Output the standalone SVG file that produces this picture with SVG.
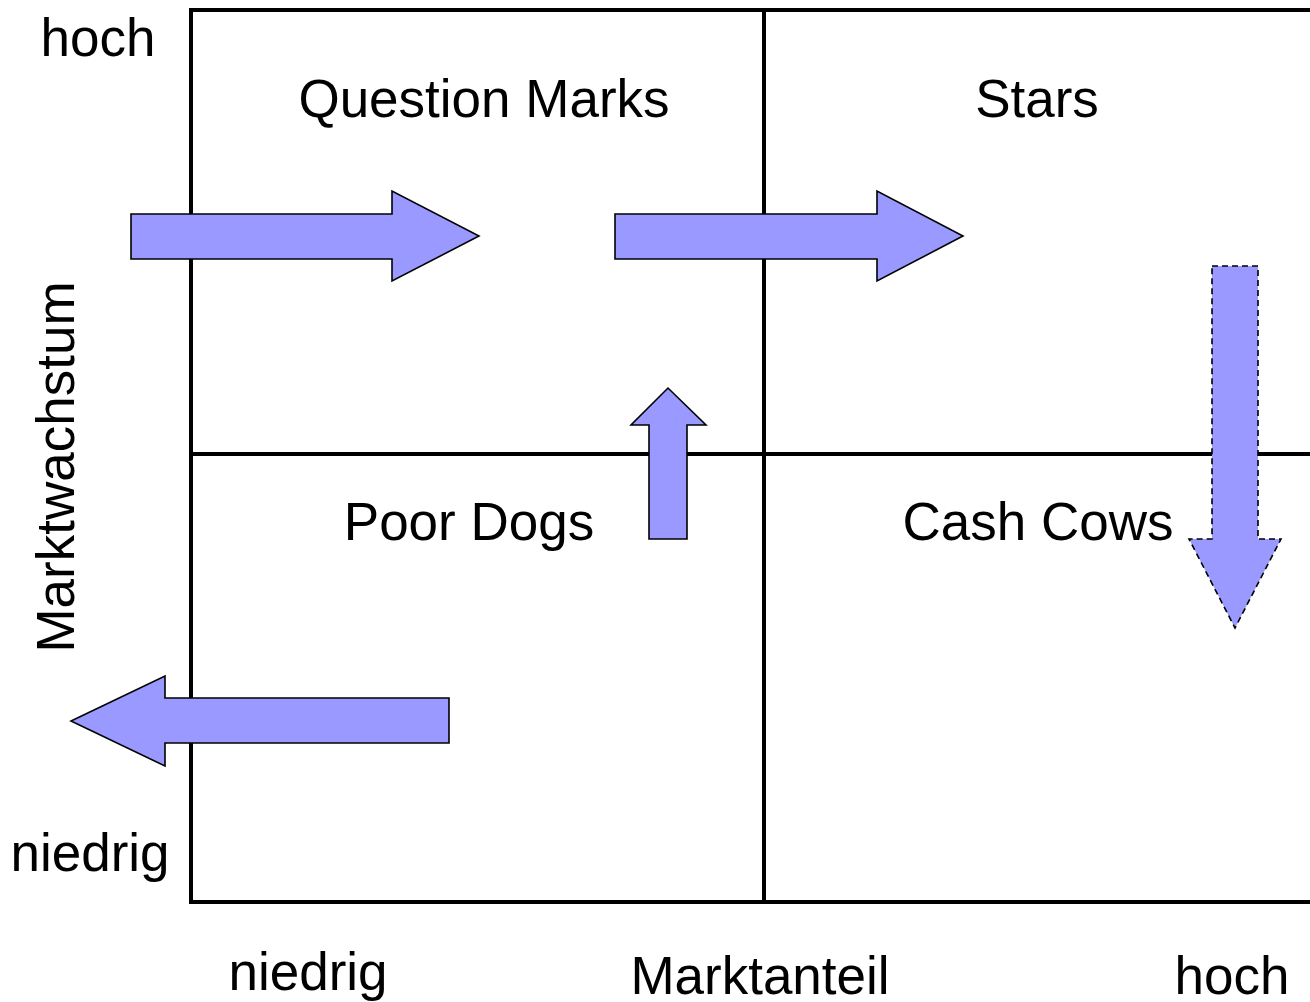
<svg xmlns="http://www.w3.org/2000/svg" width="1310" height="1002" viewBox="0 0 1310 1002">
  <style>
    .grid { fill: none; stroke: #000; stroke-width: 4; }
    .lbl { font-family: "Liberation Sans", Arial, sans-serif; font-size: 53px; fill: #000; text-anchor: middle; }
    .arrow { fill: #9999ff; stroke: #000; stroke-width: 1.6; stroke-linejoin: miter; }
    .dashed { stroke-dasharray: 6 4; }
  </style>
  <rect width="1310" height="1002" fill="#fff"/>

  <!-- portfolio matrix -->
  <g id="matrix">
    <path class="grid" d="M1320 10 H191 V902 H1320"/>
    <line class="grid" x1="764" y1="10" x2="764" y2="902"/>
    <line class="grid" x1="191" y1="454" x2="1320" y2="454"/>
  </g>

  <!-- axis labels -->
  <g id="axis-y">
    <text class="lbl" x="98" y="56">hoch</text>
    <text class="lbl" x="90" y="871">niedrig</text>
    <text class="lbl" transform="translate(74 467) rotate(-90)">Marktwachstum</text>
  </g>
  <g id="axis-x">
    <text class="lbl" x="308" y="990">niedrig</text>
    <text class="lbl" x="760" y="994">Marktanteil</text>
    <text class="lbl" x="1232" y="994">hoch</text>
  </g>

  <!-- quadrants -->
  <g id="question-marks"><text class="lbl" x="484" y="117">Question Marks</text></g>
  <g id="stars"><text class="lbl" x="1037" y="117">Stars</text></g>
  <g id="poor-dogs"><text class="lbl" x="469" y="540">Poor Dogs</text></g>
  <g id="cash-cows"><text class="lbl" x="1038" y="540">Cash Cows</text></g>

  <!-- lifecycle arrows -->
  <g id="connectors">
    <polygon class="arrow" points="131,214 392,214 392,191 479,236 392,281 392,259 131,259"/>
    <polygon class="arrow" points="615,214 877,214 877,191 963,236 877,281 877,259 615,259"/>
    <polygon class="arrow" points="649,539 649,425 631,425 668,388 706,425 687,425 687,539"/>
    <polygon class="arrow dashed" points="1212,266 1258,266 1258,539 1281,539 1235,628 1189,539 1212,539"/>
    <polygon class="arrow" points="449,698 165,698 165,676 71,721 165,766 165,743 449,743"/>
  </g>
</svg>
